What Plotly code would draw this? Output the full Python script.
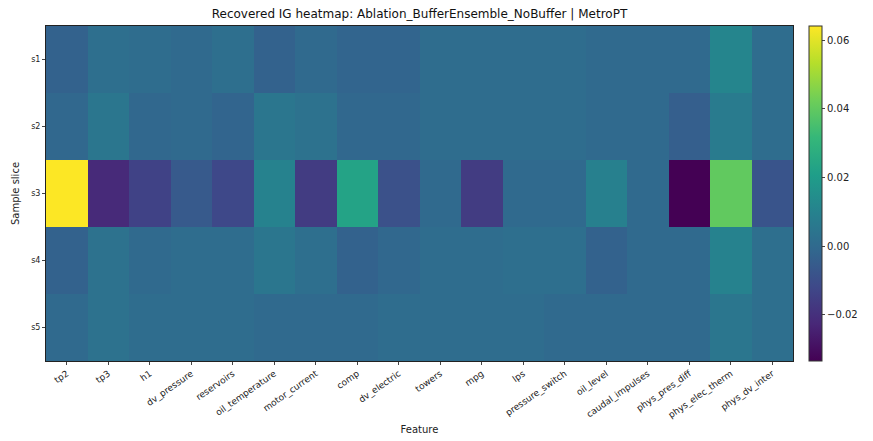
import plotly.graph_objects as go

features = ["tp2", "tp3", "h1", "dv_pressure", "reservoirs", "oil_temperature",
            "motor_current", "comp", "dv_electric", "towers", "mpg", "lps",
            "pressure_switch", "oil_level", "caudal_impulses", "phys_pres_diff",
            "phys_elec_therm", "phys_dv_inter"]
slices = ["s1", "s2", "s3", "s4", "s5"]

s1 = [-0.003, 0.002, 0.001, 0.000, 0.002, -0.003, 0.000, -0.002, -0.002, 0.001,
      0.001, 0.001, 0.001, 0.000, 0.000, 0.000, 0.011, 0.001]
s2 = [-0.001, 0.005, -0.001, 0.000, -0.002, 0.005, 0.003, -0.001, -0.001, 0.001,
      0.001, 0.001, 0.001, 0.000, 0.000, -0.004, 0.007, 0.001]
s3 = [0.064, -0.022, -0.014, -0.006, -0.012, 0.010, -0.016, 0.023, -0.009, 0.000,
      -0.016, 0.000, 0.000, 0.009, 0.000, -0.0335, 0.040, -0.008]
s4 = [-0.003, 0.003, 0.000, 0.001, 0.001, 0.005, 0.002, -0.003, -0.001, 0.001,
      0.001, 0.002, 0.002, -0.003, 0.000, 0.000, 0.010, 0.002]
s5 = [0.000, 0.003, 0.001, 0.001, 0.001, 0.000, 0.000, 0.000, 0.001, 0.001,
      0.001, 0.001, 0.000, 0.000, 0.000, 0.000, 0.005, 0.002]
values = [s1, s2, s3, s4, s5]

cb_ticks = [-0.02, 0.0, 0.02, 0.04, 0.06]

fig = go.Figure(go.Heatmap(
    z=values, x=features, y=slices,
    colorscale="Viridis", zmin=-0.0335, zmax=0.0641,
    xgap=0, ygap=0,
    colorbar=dict(
        thickness=13, len=1, lenmode="fraction", y=0.5, yanchor="middle",
        x=1.0214, xanchor="left", xpad=0, ypad=0,
        outlinewidth=1, outlinecolor="#333",
        tickvals=cb_ticks, ticktext=["\u22120.02", "0.00", "0.02", "0.04", "0.06"],
        ticks="outside", ticklen=3, tickfont=dict(size=10, color="#222"),
    ),
))

fig.update_layout(
    width=873, height=441,
    margin=dict(l=46, r=80, t=26, b=80, autoexpand=False),
    paper_bgcolor="white", plot_bgcolor="white",
    font=dict(family="DejaVu Sans", color="#222"),
    title=dict(text="Recovered IG heatmap: Ablation_BufferEnsemble_NoBuffer | MetroPT",
               x=0.5, xref="paper", xanchor="center", y=1 - 14 / 441, yanchor="middle",
               font=dict(size=12, color="#111")),
)
fig.update_xaxes(
    automargin=False,
    title=dict(text="Feature", font=dict(size=10), standoff=6),
    tickangle=-35, tickfont=dict(size=9), ticks="outside", ticklen=3,
    showline=True, linecolor="#222", linewidth=1, mirror=True, showgrid=False,
)
fig.update_yaxes(
    automargin=False,
    title=dict(text="Sample slice", font=dict(size=10), standoff=9),
    autorange="reversed", tickfont=dict(size=8), ticks="outside", ticklen=3,
    showline=True, linecolor="#222", linewidth=1, mirror=True, showgrid=False,
)

fig.write_html("out.html", config={"displayModeBar": False},
               post_script="document.body.style.margin='0';document.body.style.overflow='hidden';")
